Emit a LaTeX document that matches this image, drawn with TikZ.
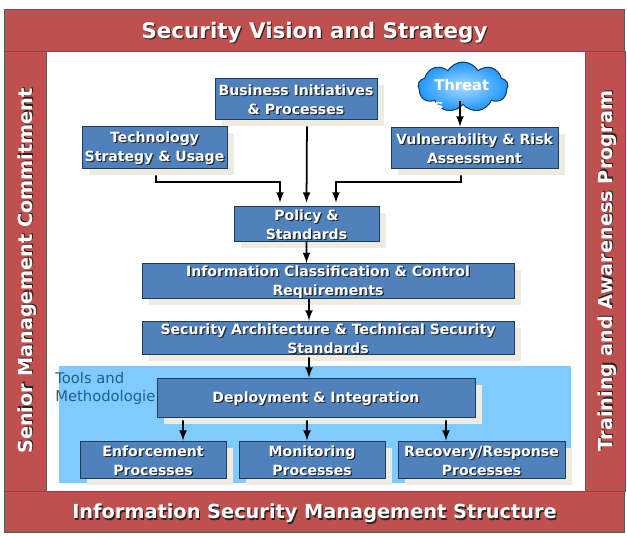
\documentclass[tikz,border=0pt]{standalone}
\usepackage{fontspec}
\setmainfont{DejaVu Sans}
\usepackage{tikz}
\usetikzlibrary{arrows,shadows,shapes.symbols}
\definecolor{bandred}{HTML}{C0504D}
\definecolor{boxblue}{HTML}{4F81BD}
\definecolor{boxedge}{HTML}{1F3A5F}
\definecolor{cream}{HTML}{EEECE1}
\definecolor{toolsblue}{HTML}{7FCAFF}
\definecolor{toolstext}{HTML}{1F5F8B}
\definecolor{cloudblue}{HTML}{1E96FF}
\definecolor{cloudpale}{HTML}{A8DCFF}
\newcommand{\dropped}[2][0.7pt]{\makebox[0pt][l]{\hspace{#1}\raisebox{-#1}{\textcolor{black!85}{#2}}}\textcolor{white}{#2}}
\newcommand{\boxline}[1]{\raisebox{-1.1pt}[\height][\depth]{\dropped{#1}}}
\begin{document}
\begin{tikzpicture}
[x=0.02cm,y=-0.02cm,
band/.style={draw=black!65,fill=bandred,inner sep=0pt,line width=0.5pt,text depth=0pt,font=\bfseries\fontsize{11}{13}\selectfont},
stepbox/.style={draw=boxedge,fill=boxblue,inner sep=0pt,align=center,line width=0.5pt,font=\bfseries\fontsize{8}{10.8}\selectfont,general shadow={fill=cream,shadow xshift=0.14cm,shadow yshift=-0.14cm}},
flow/.style={-latex,line width=1pt,black}]
\useasboundingbox (0,0) rectangle (627,536);

\node[band] (vision) at (314.5,30) [minimum width=12.42cm,minimum height=0.84cm,font=\bfseries\fontsize{12.2}{14}\selectfont] {\dropped{Security Vision and Strategy}};
\node[band] (structure) at (314.5,511.5) [minimum width=12.42cm,minimum height=0.82cm] {\dropped{Information Security Management Structure}};
\node[band,rotate=90] (commitment) at (25,271) [minimum width=8.8cm,minimum height=0.84cm] {\dropped{Senior Management Commitment}};
\node[band,rotate=90] (training) at (605,271) [minimum width=8.8cm,minimum height=0.8cm] {\dropped{Training and Awareness Program}};

\fill[toolsblue] (59,366) rectangle (571,483);
\node[anchor=west,align=left,text=toolstext,inner sep=0pt,font=\fontsize{8.4}{10.2}\selectfont] (tools) at (55,388) {Tools and\\Methodologie};

\node[stepbox] (business) at (296,98.5) [minimum width=3.24cm,minimum height=0.82cm] {\boxline{Business Initiatives}\\\boxline{\& Processes}};
\node[stepbox] (technology) at (154.5,147) [minimum width=2.9cm,minimum height=0.84cm] {\boxline{Technology}\\\boxline{Strategy \& Usage}};
\node[stepbox] (vulnerability) at (474.5,147.5) [minimum width=3.34cm,minimum height=0.82cm] {\boxline{Vulnerability \& Risk}\\\boxline{Assessment}};
\node[stepbox] (policy) at (306.5,223.5) [minimum width=2.9cm,minimum height=0.7cm] {\boxline{Policy \&}\\\boxline{Standards}};
\node[stepbox] (classification) at (328,281) [minimum width=7.44cm,minimum height=0.7cm] {\boxline{Information Classification \& Control}\\\boxline{Requirements}};
\node[stepbox] (architecture) at (328,337.5) [minimum width=7.44cm,minimum height=0.66cm] {\boxline{Security Architecture \& Technical Security}\\\boxline{Standards}};
\node[stepbox] (deployment) at (316,397.5) [minimum width=6.36cm,minimum height=0.78cm] {\boxline{Deployment \& Integration}};
\node[stepbox] (enforcement) at (153,459.5) [minimum width=2.92cm,minimum height=0.74cm] {\boxline{Enforcement}\\\boxline{Processes}};
\node[stepbox] (monitoring) at (312,459.5) [minimum width=2.92cm,minimum height=0.74cm] {\boxline{Monitoring}\\\boxline{Processes}};
\node[stepbox] (recovery) at (481.5,459.5) [minimum width=3.34cm,minimum height=0.74cm] {\boxline{Recovery/Response}\\\boxline{Processes}};

\node[cloud,cloud puffs=9,cloud puff arc=120,aspect=1.7,draw=boxedge,line width=0.6pt,inner color=cloudpale,outer color=cloudblue,inner sep=0pt,minimum width=1.8cm,minimum height=1cm] (threat) at (463,87) {};
\node[anchor=base west,text=white,inner sep=0pt,font=\bfseries\fontsize{8.4}{10}\selectfont] (threatword) at (434,91) {Threat};
\begin{scope}
\clip (420,95) rectangle (500,108);
\node[anchor=base west,text=white,inner sep=0pt,font=\bfseries\fontsize{8.4}{10}\selectfont] (threattail) at (434,111) {s};
\end{scope}

\draw[flow,shorten <=0.14cm,shorten >=0.06cm] ([xshift=0.22cm]business.south) -- (policy.north);
\coordinate (technologybend) at (280,182);
\coordinate (vulnerabilitybend) at (336,182);
\draw[flow,shorten <=0.14cm,shorten >=0.06cm] ([xshift=0.03cm]technology.south) |- (technologybend) -- ([xshift=-0.53cm]policy.north);
\draw[flow,shorten <=0.14cm,shorten >=0.06cm] ([xshift=-0.27cm]vulnerability.south) |- (vulnerabilitybend) -- ([xshift=0.59cm]policy.north);
\draw[flow] ([xshift=-0.06cm,yshift=0.08cm]threat.south) -- ([xshift=-0.29cm]vulnerability.north);

\draw[flow] (policy.south) -- ([xshift=-0.43cm]classification.north);
\draw[flow] ([xshift=-0.38cm]classification.south) -- ([xshift=-0.38cm]architecture.north);
\draw[flow,shorten <=0.06cm] ([xshift=-0.38cm]architecture.south) -- ([xshift=-0.14cm]deployment.north);

\draw[flow,shorten <=0.06cm] ([xshift=-2.66cm]deployment.south) -- ([xshift=0.6cm]enforcement.north);
\draw[flow,shorten <=0.06cm] ([xshift=-0.18cm]deployment.south) -- ([xshift=-0.1cm]monitoring.north);
\draw[flow,shorten <=0.06cm] ([xshift=2.6cm]deployment.south) -- ([xshift=-0.71cm]recovery.north);
\end{tikzpicture}
\end{document}
